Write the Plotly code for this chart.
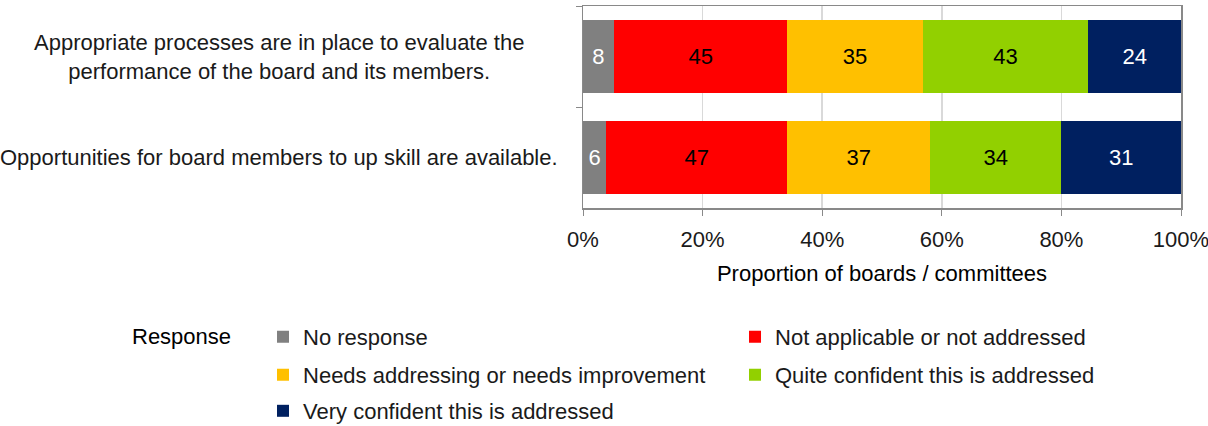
import plotly.graph_objects as go

categories = [
    "Appropriate processes are in place to evaluate the<br>performance of the board and its members.",
    "Opportunities for board members to up skill are available.",
]
series_names = [
    "No response",
    "Not applicable or not addressed",
    "Needs addressing or needs improvement",
    "Quite confident this is addressed",
    "Very confident this is addressed",
]
no_response = [8, 6]
not_applicable = [45, 47]
needs_addressing = [35, 37]
quite_confident = [43, 34]
very_confident = [24, 31]

series_values = [no_response, not_applicable, needs_addressing, quite_confident, very_confident]
colors = ["#808080", "#FF0000", "#FFC000", "#92D000", "#002060"]
text_colors = ["#FFFFFF", "#000000", "#000000", "#000000", "#FFFFFF"]

FONT = "Liberation Sans, Arial, sans-serif"
FS = 22
legend_ids = ["legend", "legend2", "legend3"]

fig = go.Figure()
for i, (name, vals, col, tcol) in enumerate(zip(series_names, series_values, colors, text_colors)):
    fig.add_trace(go.Bar(
        y=categories, x=vals, name=name, orientation="h",
        marker=dict(color=col, line=dict(width=0)),
        text=[str(v) for v in vals], textposition="inside",
        insidetextanchor="middle", textangle=0, constraintext="none",
        textfont=dict(size=FS, color=tcol, family=FONT),
        hoverinfo="skip", legend=legend_ids[i // 2],
    ))

for cat in categories:
    fig.add_annotation(
        x=-0.508, xref="paper", y=cat, yref="y", text=cat,
        showarrow=False, xanchor="center", yanchor="middle", align="center",
        font=dict(size=FS, color="#1a1a1a", family=FONT),
    )

fig.add_annotation(
    x=-0.7575, xref="paper", y=-0.6386, yref="paper", text="Response",
    showarrow=False, xanchor="left", yanchor="middle",
    font=dict(size=FS, color="#000000", family=FONT),
)

legend_common = dict(
    orientation="h", x=-0.5351, xanchor="left", yanchor="top",
    font=dict(size=FS, color="#1a1a1a", family=FONT),
    entrywidth=427, entrywidthmode="pixels", traceorder="normal",
    itemclick=False, itemdoubleclick=False, bgcolor="rgba(0,0,0,0)",
)

fig.update_layout(
    width=1208, height=426,
    margin=dict(l=583, r=27, t=6, b=218, autoexpand=False),
    barmode="stack", barnorm="percent", bargap=0.28,
    plot_bgcolor="white", paper_bgcolor="white",
    font=dict(family=FONT, size=FS, color="#1a1a1a"),
    showlegend=True,
    legend=dict(legend_common, y=-0.534),
    legend2=dict(legend_common, y=-0.7225),
    legend3=dict(legend_common, y=-0.901),
)
fig.update_xaxes(
    range=[0, 100], dtick=20, ticksuffix="%", showgrid=True, gridcolor="#D9D9D9",
    gridwidth=1.5, ticks="outside", ticklen=6, tickcolor="#898989",
    ticklabelstandoff=5, ticklabeloverflow="allow",
    showline=True, linecolor="#898989", linewidth=1.5, mirror=True, zeroline=False,
    tickfont=dict(size=FS, color="#1a1a1a"),
    title=dict(text="Proportion of boards / committees", font=dict(size=FS, color="#000000"), standoff=14),
)
fig.update_yaxes(
    categoryorder="array", categoryarray=categories, autorange="reversed",
    showticklabels=False, ticks="outside", ticklen=6, tickcolor="#898989",
    tickson="boundaries", showline=True, linecolor="#898989", linewidth=1.5,
    mirror=True, showgrid=False, zeroline=False,
)

fig.write_html(
    "out.html",
    config={"displayModeBar": False, "staticPlot": True},
    post_script="document.body.style.margin='0';document.body.style.overflow='hidden';",
)
